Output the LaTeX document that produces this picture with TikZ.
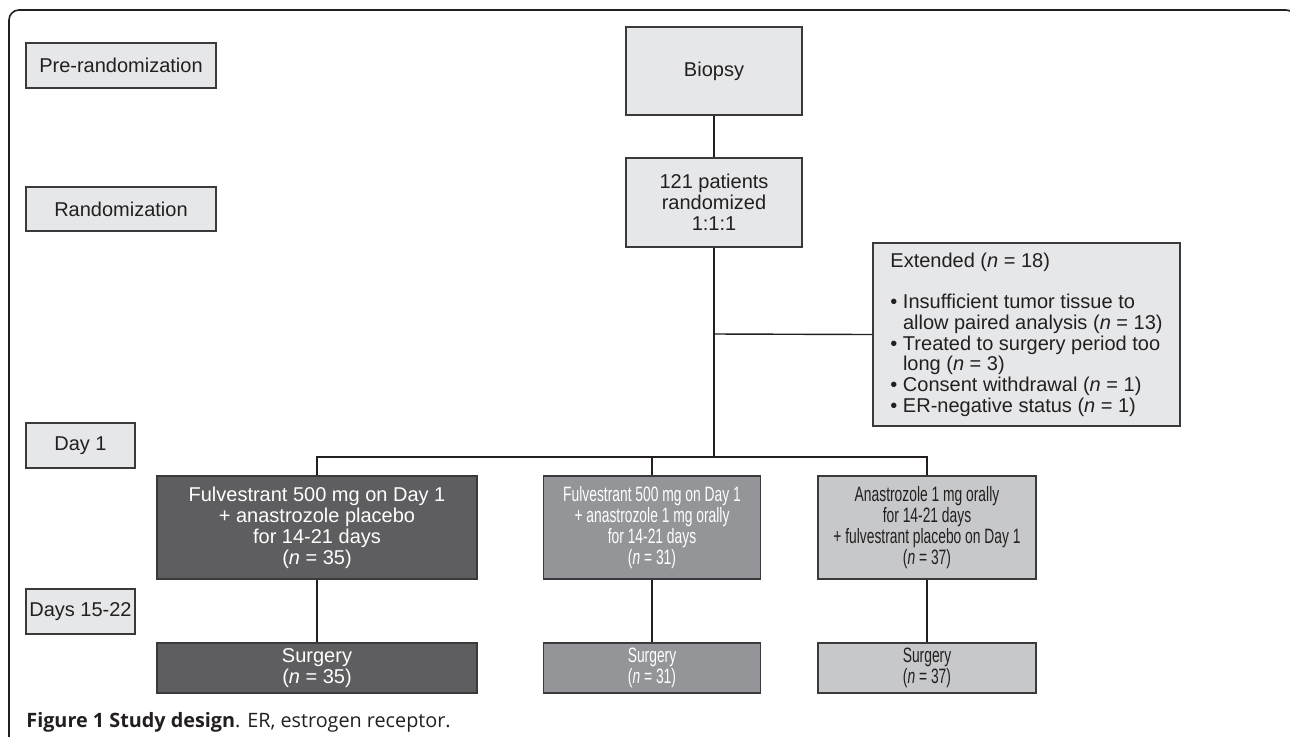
\documentclass[tikz,border=0pt]{standalone}
\usepackage{fontspec}
\setmainfont{Liberation Sans}
\newfontfamily\etroite[FakeStretch=0.665]{Liberation Sans}
\newfontfamily\legende{Open Sans}
\usetikzlibrary{calc}
\definecolor{bord}{HTML}{3A3A3C}
\definecolor{encre}{HTML}{231F20}
\definecolor{grisclair}{HTML}{E6E7E8}
\definecolor{grisfonce}{HTML}{5E5E60}
\definecolor{grismoyen}{HTML}{939598}
\definecolor{grispale}{HTML}{C7C8CA}
\tikzset{
	boite/.style={draw=bord, line width=0.6pt, inner sep=0pt, align=center, text=encre,
		font=\fontsize{10}{10.5}\selectfont},
	etape/.style={boite, fill=grisclair},
	brasA/.style={boite, fill=grisfonce, text=white, minimum width=160pt},
	brasB/.style={boite, fill=grismoyen, text=white, minimum width=108.5pt,
		font=\etroite\fontsize{10.4}{10.5}\selectfont},
	brasC/.style={boite, fill=grispale, minimum width=109pt,
		font=\etroite\fontsize{10.4}{10.5}\selectfont},
	lien/.style={draw=encre, line width=0.7pt}
}

\begin{document}
\begin{tikzpicture}[x=0.5pt,y=-0.5pt]
	\useasboundingbox (0,0) rectangle (1290,736);
	\clip (0,0) rectangle (1290,736);
	% Cadre
	\draw [encre, line width=0.8pt, rounded corners=5pt] (9,740) -- (9,10) -- (1296,10) -- (1296,740);
	% Etapes a gauche
	\node [etape, minimum width=95pt, minimum height=22.5pt] (prerando) at (121,65.5) {Pre-randomization};
	\node [etape, minimum width=95pt, minimum height=22pt] (rando) at (121,209) {Randomization};
	\node [etape, minimum width=54.5pt, minimum height=22.5pt] (jour1) at (80.5,445.5) {Day 1};
	\node [etape, minimum width=54.5pt, minimum height=22.5pt] (jours) at (80.5,611.5) {Days 15-22};
	% Tronc
	\node [etape, minimum width=88pt, minimum height=44pt] (biopsie) at (714,71) {Biopsy};
	\node [etape, minimum width=88pt, minimum height=44.5pt] (patients) at (714,202.5) {121 patients\\randomized\\1:1:1};
	\node [etape, minimum width=153.5pt, minimum height=91.5pt, align=left,
		font=\fontsize{10}{10.35}\selectfont] (exclus) at (1026.5,334.5)
		{Extended (\textit{n} = 18)\\[10.35pt]
		\textbullet\ Insufficient tumor tissue to\\
		\phantom{\textbullet\ }allow paired analysis (\textit{n} = 13)\\
		\textbullet\ Treated to surgery period too\\
		\phantom{\textbullet\ }long (\textit{n} = 3)\\
		\textbullet\ Consent withdrawal (\textit{n} = 1)\\
		\textbullet\ ER-negative status (\textit{n} = 1)};
	% Bras
	\node [brasA, minimum height=51.5pt] (armA) at (317,527.5) {Fulvestrant 500 mg on Day 1\\+ anastrozole placebo\\for 14-21 days\\(\textit{n} = 35)};
	\node [brasB, minimum height=51.5pt] (armB) at (652,527.5) {Fulvestrant 500 mg on Day 1\\+ anastrozole 1 mg orally\\for 14-21 days\\(\textit{n} = 31)};
	\node [brasC, minimum height=51.5pt] (armC) at (927,527.5) {Anastrozole 1 mg orally\\for 14-21 days\\+ fulvestrant placebo on Day 1\\(\textit{n} = 37)};
	\node [brasA, minimum height=25pt] (chirA) at (317,668) {Surgery\\(\textit{n} = 35)};
	\node [brasB, minimum height=25pt] (chirB) at (652,668) {Surgery\\(\textit{n} = 31)};
	\node [brasC, minimum height=25pt] (chirC) at (927,668) {Surgery\\(\textit{n} = 37)};
	% Liens
	\coordinate (fourche) at (714,457);
	\coordinate (branche) at (714,334);
	\draw [lien] (biopsie) -- (patients);
	\draw [lien] (patients) -- (fourche);
	\draw [lien] (branche) -- (exclus.west);
	\draw [lien] (armA.north) |- (fourche) -| (armC.north);
	\draw [lien] (armB.north) -- (armB.north |- fourche);
	\draw [lien] (armA) -- (chirA);
	\draw [lien] (armB) -- (chirB);
	\draw [lien] (armC) -- (chirC);
	% Legende
	\node [anchor=base west, inner sep=0pt, text=encre, font=\legende\fontsize{9.9}{12}\selectfont] (titre) at (26,727)
		{\textbf{Figure 1 Study design}. ER, estrogen receptor.};
\end{tikzpicture}
\end{document}
